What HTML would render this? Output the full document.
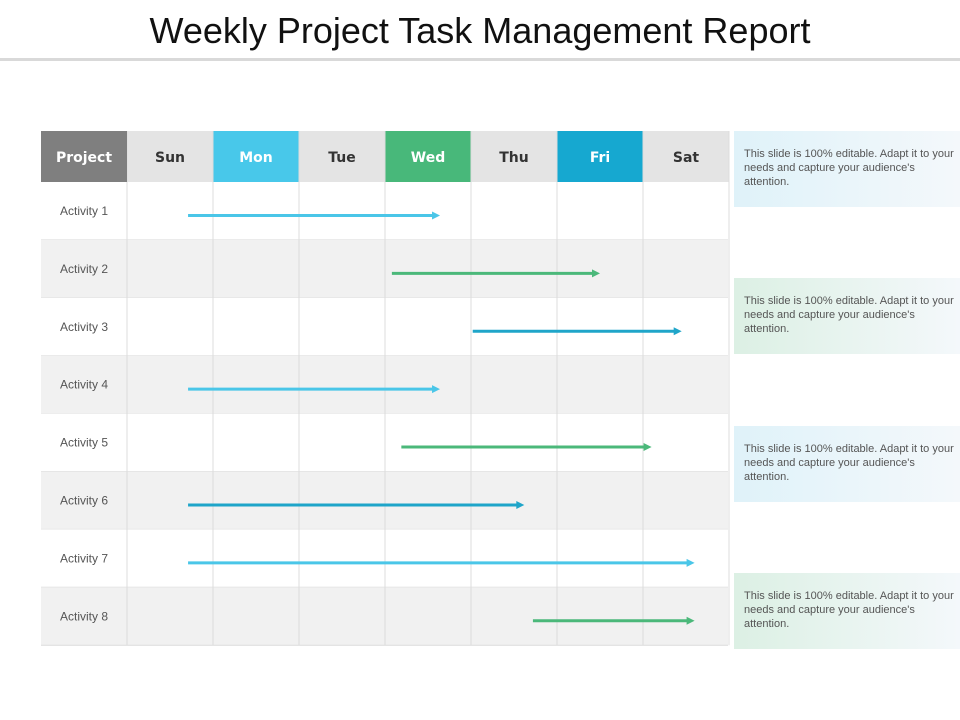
<!DOCTYPE html>
<html><head><meta charset="utf-8"><style>
body{margin:0;width:960px;height:720px;background:#fff;overflow:hidden;font-family:"Liberation Sans",sans-serif}
#title{position:absolute;left:0;top:10px;width:960px;text-align:center;font-size:36px;color:#111}
#rule{position:absolute;left:0;top:58px;width:960px;height:3px;background:#d9d9d9}
.note{position:absolute;left:734px;width:216px;height:60px;padding:16px 0 0 10px;font-size:11px;line-height:14px;color:#555}
.nb{background:linear-gradient(90deg,#dff2f9,#f4f8fb)}
.ng{background:linear-gradient(90deg,#dcf0e4,#f4f8fb)}
</style></head><body>
<div id="title">Weekly Project Task Management Report</div>
<div id="rule"></div>
<svg id="chart" width="960" height="720" style="position:absolute;left:0;top:0"></svg>
<div class="note nb" style="top:131px">This slide is 100% editable. Adapt it to your needs and capture your audience's attention.</div>
<div class="note ng" style="top:278px">This slide is 100% editable. Adapt it to your needs and capture your audience's attention.</div>
<div class="note nb" style="top:426px">This slide is 100% editable. Adapt it to your needs and capture your audience's attention.</div>
<div class="note ng" style="top:573px">This slide is 100% editable. Adapt it to your needs and capture your audience's attention.</div>
<script>
const days=["Sun","Mon","Tue","Wed","Thu","Fri","Sat"];
const activities=["Activity 1","Activity 2","Activity 3","Activity 4","Activity 5","Activity 6","Activity 7","Activity 8"];
const starts=[0.71,3.08,4.02,0.71,3.19,0.71,0.71,4.72];
const ends=[3.64,5.5,6.45,3.64,6.1,4.62,6.6,6.6];
const colorIdx=[0,1,2,0,1,2,0,1];
const palette=["#4ac6e8","#4bb87a","#1fa5c9"];
const headBg=["#e4e4e4","#48c8ea","#e4e4e4","#48b87a","#e4e4e4","#16a8d0","#e4e4e4"];
const headFg=["#333","#fff","#333","#fff","#333","#fff","#333"];
const NS="http://www.w3.org/2000/svg";
const svg=document.getElementById('chart');
const X0=41,COLW=86,FIRSTW=86,TOP=131,HEADH=51,ROWH=57.9;
const dx=d=>X0+FIRSTW+d*COLW;
const ry=i=>TOP+HEADH+i*ROWH;
function mk(t,a){const e=document.createElementNS(NS,t);for(const k in a)e.setAttribute(k,a[k]);svg.appendChild(e);return e;}
// rows
activities.forEach((a,i)=>{
  const r=mk('rect',{x:X0,y:ry(i),width:687,height:ROWH,fill:i%2?'#f1f1f1':'#fff'});
  
  
  const t=mk('text',{x:X0+43,y:ry(i)+ROWH/2+4,'text-anchor':'middle','font-size':12,fill:'#555','font-family':'Liberation Sans, sans-serif'});
  t.textContent=a;
  
  
  const l=mk('line',{x1:X0,x2:728,y1:ry(i+1),y2:ry(i+1),stroke:'#dcdcdc','stroke-width':1});
  
  
});
for(let c=0;c<=7;c++){
  const l=mk('line',{x1:dx(c),x2:dx(c),y1:TOP,y2:ry(8),stroke:'#dcdcdc','stroke-width':1});
  
  
}
// header
const ph=mk('rect',{x:X0,y:TOP,width:FIRSTW,height:HEADH,fill:'#7f7f7f'});


const pt=mk('text',{x:X0+43,y:TOP+31,'text-anchor':'middle','font-size':14,'font-weight':'bold',fill:'#fff','font-family':'DejaVu Sans, sans-serif'});
pt.textContent='Project';


days.forEach((d,c)=>{
  const r=mk('rect',{x:dx(c)+0.5,y:TOP,width:COLW-1,height:HEADH,fill:headBg[c]});
  
  
  const t=mk('text',{x:dx(c)+COLW/2,y:TOP+31,'text-anchor':'middle','font-size':14,'font-weight':'bold',fill:headFg[c],'font-family':'DejaVu Sans, sans-serif'});
  t.textContent=d;
  
  
});
// arrows
activities.forEach((a,i)=>{
  const y=ry(i)+ROWH/2+4.5, col=palette[colorIdx[i]];
  const x1=dx(starts[i]), x2=dx(ends[i]);
  const l=mk('line',{x1:x1,x2:x2-6,y1:y,y2:y,stroke:col,'stroke-width':3});
  
  
  const h=mk('polygon',{points:`${x2-8},${y-4} ${x2},${y} ${x2-8},${y+4}`,fill:col});
  
  
});
</script>
</body></html>
